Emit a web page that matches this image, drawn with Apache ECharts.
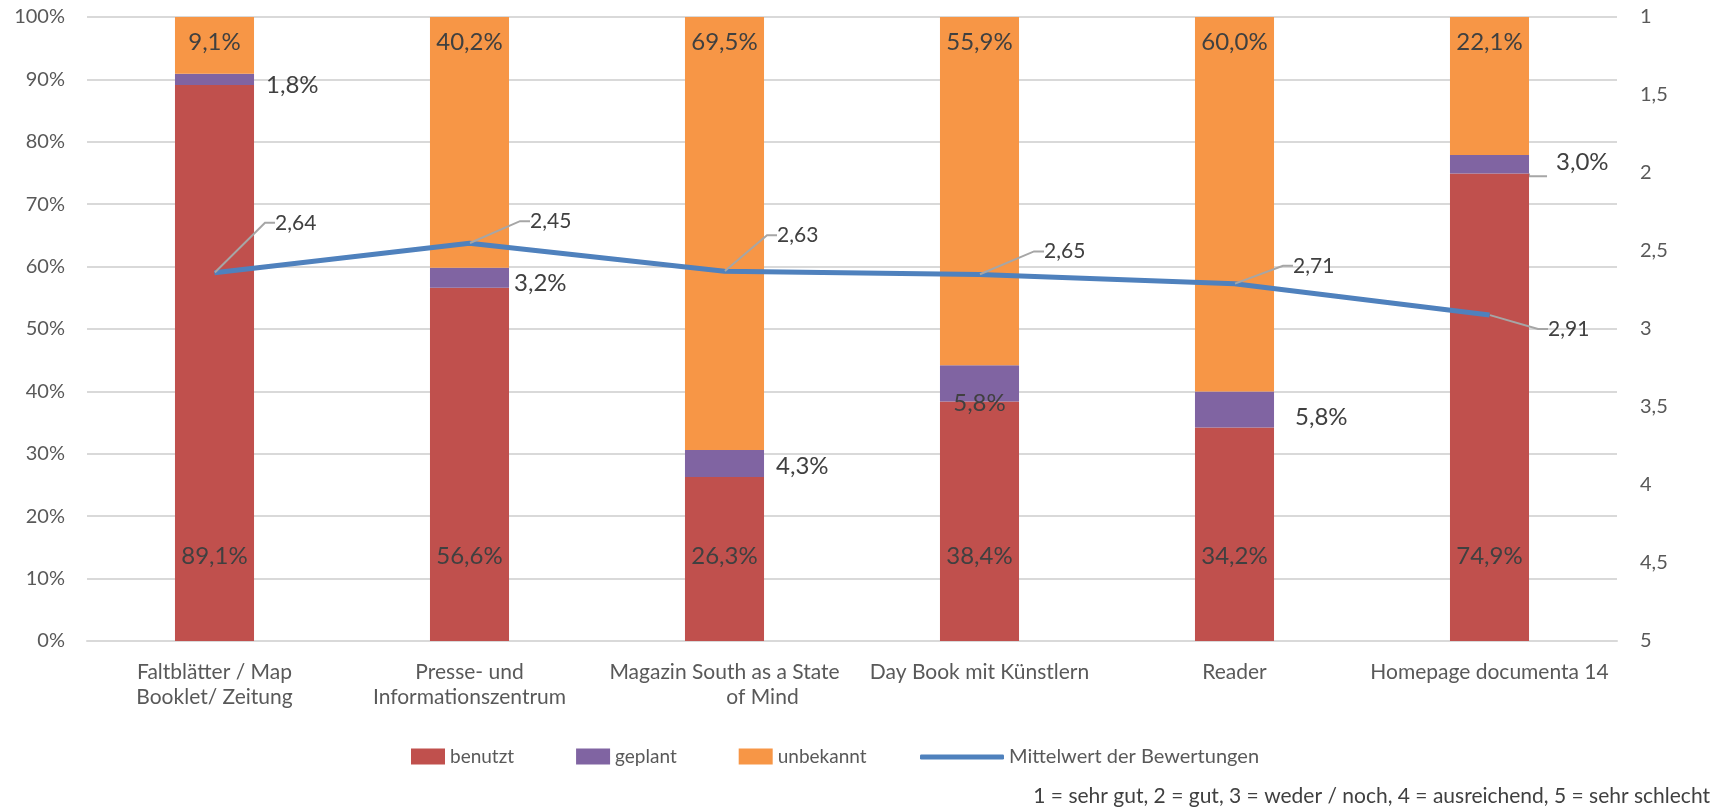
<!DOCTYPE html>
<html>
<head>
<meta charset="utf-8">
<script src="https://cdn.jsdelivr.net/npm/echarts@6/dist/echarts.min.js"></script>
<style>
html,body{margin:0;padding:0;background:#fff;}
#chart{width:1727px;height:809px;}
</style>
</head>
<body>
<div id="chart"></div>
<script>
const categories = ['Faltblätter / Map\nBooklet/ Zeitung', 'Presse- und\nInformationszentrum', 'Magazin South as a State\nof Mind', 'Day Book mit Künstlern', 'Reader', 'Homepage documenta 14'];
const benutzt = [89.1, 56.6, 26.3, 38.4, 34.2, 74.9];
const geplant = [1.8, 3.2, 4.3, 5.8, 5.8, 3.0];
const unbekannt = [9.1, 40.2, 69.5, 55.9, 60.0, 22.1];
const mittelwert = [2.64, 2.45, 2.63, 2.65, 2.71, 2.91];
const leftTicks = [0, 10, 20, 30, 40, 50, 60, 70, 80, 90, 100];
const rightTicks = [1, 1.5, 2, 2.5, 3, 3.5, 4, 4.5, 5];
const footnote = '1 = sehr gut, 2 = gut, 3 = weder / noch, 4 = ausreichend, 5 = sehr schlecht';

const FONT = 'Lato';
const pct = v => v.toFixed(1).replace('.', ',') + '%';

// label placement for "geplant" labels (layout only)
const geplantPlacement = [
  {position: 'right', distance: 12, offset: [0, 6]},
  {position: 'right', distance: 5, offset: [0, 5]},
  {position: 'right', distance: 12, offset: [0, 3]},
  {position: 'inside', distance: 0, offset: [0, 20]},
  {position: 'right', distance: 21, offset: [0, 8]},
  {position: 'right', distance: 18, offset: [0, -2], line: true}
];
// label offsets for the average line labels (layout only)
const lineLabelDy = [-50, -22, -36, -23, -18, 14];
const lineLabelDx = [51, 51, 43, 55, 49, 49];

const chart = echarts.init(document.getElementById('chart'));

const barLabelBase = {show: true, fontFamily: FONT, fontSize: 24, color: '#404040', lineHeight: 28};

const catTextStyle = {fontFamily: FONT, fontSize: 21, color: '#595959', lineHeight: 25};

const option = {
  animation: false,
  textStyle: {fontFamily: FONT},
  grid: {left: 87, right: 110, top: 17, bottom: 168},
  legend: [{
    data: ['benutzt', 'geplant', 'unbekannt'],
    left: 406, top: 742,
    itemWidth: 34, itemHeight: 16, itemGap: 62,
    icon: 'rect',
    textStyle: {fontFamily: FONT, fontSize: 19, color: '#595959'}
  }, {
    data: ['Mittelwert der Bewertungen'],
    left: 915, top: 742,
    itemWidth: 84, itemHeight: 5, itemGap: 4,
    icon: 'roundRect',
    textStyle: {fontFamily: FONT, fontSize: 20, color: '#595959'}
  }],
  xAxis: {
    type: 'category',
    data: categories,
    axisLine: {show: true, lineStyle: {color: '#D9D9D9', width: 2}},
    axisTick: {show: false},
    axisLabel: Object.assign({}, catTextStyle, {
      margin: 19, interval: 0,
      formatter: (v, i) => {
        // Excel rendered the wrapped tail of the third label shifted right
        if (i === 2) {
          const parts = v.split('\n');
          return '{a|' + parts[0] + '}\n{b|' + parts[1] + '}';
        }
        return v;
      },
      rich: {
        a: Object.assign({}, catTextStyle),
        b: Object.assign({}, catTextStyle, {padding: [0, 0, 0, 76]})
      }
    })
  },
  yAxis: [{
    type: 'value', min: 0, max: 100, interval: 10,
    axisLine: {show: false}, axisTick: {show: false},
    splitLine: {lineStyle: {color: '#D9D9D9', width: 2}},
    axisLabel: {fontFamily: FONT, fontSize: 20, color: '#595959', margin: 22, formatter: v => v + '%'}
  }, {
    type: 'value', min: 1, max: 5, interval: 0.5, inverse: true,
    axisLine: {show: false}, axisTick: {show: false},
    splitLine: {show: false},
    axisLabel: {fontFamily: FONT, fontSize: 20, color: '#595959', margin: 23, align: 'left',
      formatter: v => String(v).replace('.', ',')}
  }],
  series: [{
    name: 'benutzt', type: 'bar', stack: 's', barWidth: '31%',
    itemStyle: {color: '#C0504D'},
    label: Object.assign({}, barLabelBase, {position: 'insideBottom', distance: 71, formatter: p => pct(p.value)}),
    data: benutzt
  }, {
    name: 'geplant', type: 'bar', stack: 's',
    itemStyle: {color: '#8064A2'},
    label: Object.assign({}, barLabelBase, {formatter: p => pct(p.value)}),
    labelLine: {show: false, length2: 18, lineStyle: {color: '#A6A6A6', width: 2}},
    data: geplant.map((v, i) => {
      const pl = geplantPlacement[i];
      const item = {value: v, label: {position: pl.position, distance: pl.distance, offset: pl.offset}};
      if (pl.line) {
        item.label.padding = [0, 0, 0, 9];
        item.labelLine = {show: true, length2: 18, lineStyle: {color: '#A6A6A6', width: 2}};
      }
      return item;
    })
  }, {
    name: 'unbekannt', type: 'bar', stack: 's',
    itemStyle: {color: '#F79646'},
    label: Object.assign({}, barLabelBase, {position: 'insideTop', distance: 11, formatter: p => pct(p.value)}),
    data: unbekannt
  }, {
    name: 'Mittelwert der Bewertungen', type: 'line', yAxisIndex: 1, z: 5,
    symbol: 'circle', symbolSize: 1, showSymbol: true,
    lineStyle: {color: '#4F81BD', width: 5},
    itemStyle: {color: '#4F81BD'},
    label: {show: true, position: 'right', distance: 0, padding: [0, 0, 0, 9],
      fontFamily: FONT, fontSize: 21, color: '#404040',
      formatter: p => p.value.toFixed(2).replace('.', ',')},
    labelLine: {show: true, length2: 10, lineStyle: {color: '#A6A6A6', width: 2}},
    labelLayout: p => ({dx: lineLabelDx[p.dataIndex], dy: lineLabelDy[p.dataIndex]}),
    data: mittelwert
  }],
  graphic: [{
    type: 'text', right: 17, top: 786,
    style: {text: footnote, font: '21px ' + FONT, fill: '#404040'}
  }]
};
chart.setOption(option);
</script>
</body>
</html>
